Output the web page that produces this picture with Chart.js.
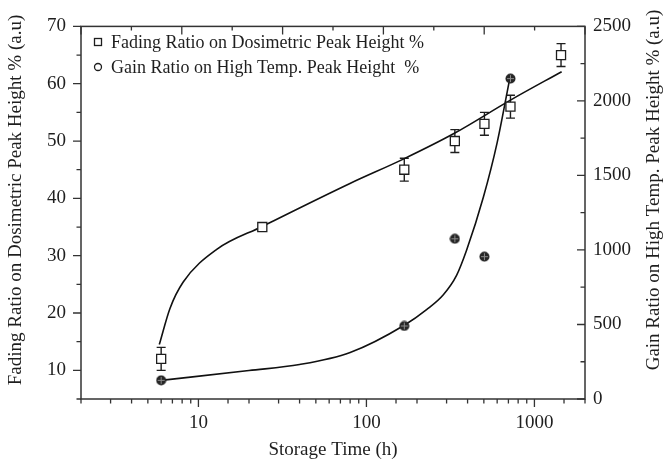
<!DOCTYPE html>
<html><head><meta charset="utf-8">
<script src="https://cdn.jsdelivr.net/npm/chart.js@4/dist/chart.umd.min.js"></script>
<style>html,body{margin:0;padding:0;background:#fff}#wrap{width:664px;height:461px;position:relative}</style>
</head><body><div id="wrap"><canvas id="c" width="664" height="461"></canvas></div>
<script>
// ---- data ----
const fadingHours = [6, 24, 168, 336, 504, 720, 1440];
const fadingRatio = [12, 35, 45, 50, 53, 56, 65];
const fadingError = [2, 0.7, 2, 2, 2, 2, 2];
const gainHours = [6, 168, 336, 504, 720];
const gainRatio = [125, 490, 1075, 955, 2150];
// fitted curves
const fadingFitHours = [5.85, 6.77, 8.12, 12.85, 24, 79.8, 165.7, 336, 716, 1452];
const fadingFitValues = [14.5, 20.8, 25.4, 31.1, 35.1, 42.6, 46.85, 51.4, 57.1, 62.1];
const gainFitHours = [6, 20, 40, 80, 168, 228, 287, 344, 395, 497, 600, 716];
const gainFitValues = [125, 191, 231, 312, 495, 600, 700, 830, 1000, 1355, 1720, 2160];
const xTickLabels = [10, 100, 1000];
const leftTickLabels = [10, 20, 30, 40, 50, 60, 70];
const rightTickLabels = [0, 500, 1000, 1500, 2000, 2500];
const seriesNames = ['Fading Ratio on Dosimetric Peak Height %', 'Gain Ratio on High Temp. Peak Height  %'];
const xTitle = 'Storage Time (h)';
const yTitle = 'Fading Ratio on Dosimetric Peak Height % (a.u)';
const y2Title = 'Gain Ratio on High Temp. Peak Height % (a.u)';

const FONT = "'Liberation Serif', 'DejaVu Serif', serif";
const INK = '#1e1e1e';
Chart.defaults.font.family = FONT;
Chart.defaults.color = INK;

const gi = document.createElement('canvas'); gi.width = 11; gi.height = 11;
(function(){const g = gi.getContext('2d'); g.fillStyle = '#262626'; g.beginPath(); g.arc(5.5,5.5,5,0,2*Math.PI); g.fill();
 g.strokeStyle = '#8a8a8a'; g.lineWidth = 1; g.beginPath(); g.moveTo(5.5,2); g.lineTo(5.5,9); g.moveTo(2,5.5); g.lineTo(9,5.5); g.stroke();})();

const near = (v, arr) => arr.some(t => Math.abs(v - t) <= Math.max(1e-6, Math.abs(t) * 1e-6));

const decor = {
  id: 'decor',
  beforeDatasetsDraw(chart) {
    const ctx = chart.ctx, xs = chart.scales.x, ys = chart.scales.y;
    ctx.save(); ctx.strokeStyle = INK; ctx.lineWidth = 1.4;
    fadingHours.forEach((h, i) => {
      const px = xs.getPixelForValue(h);
      const t = ys.getPixelForValue(fadingRatio[i] + fadingError[i]);
      const b = ys.getPixelForValue(fadingRatio[i] - fadingError[i]);
      ctx.beginPath(); ctx.moveTo(px, t); ctx.lineTo(px, b);
      ctx.moveTo(px - 4.5, t); ctx.lineTo(px + 4.5, t);
      ctx.moveTo(px - 4.5, b); ctx.lineTo(px + 4.5, b); ctx.stroke();
    });
    ctx.restore();
  },
  afterDraw(chart) {
    const ctx = chart.ctx, a = chart.chartArea;
    const xs = chart.scales.x, ys = chart.scales.y, y2 = chart.scales.y2;
    ctx.save();
    ctx.strokeStyle = '#333'; ctx.lineWidth = 1.5;
    ctx.strokeRect(a.left, a.top, a.right - a.left, a.bottom - a.top);
    ctx.lineWidth = 1.3; ctx.beginPath();
    xs.ticks.forEach(t => {
      const px = xs.getPixelForValue(t.value);
      const lg = Math.log10(t.value); const major = Math.abs(lg - Math.round(lg)) < 1e-6;
      ctx.moveTo(px, a.bottom); ctx.lineTo(px, a.bottom + (major ? 8 : 4.5));
    });
    ys.ticks.forEach(t => {
      const py = ys.getPixelForValue(t.value); const major = Math.round(t.value) % 10 === 0;
      ctx.moveTo(a.left, py); ctx.lineTo(a.left - (major ? 8 : 4.5), py);
    });
    y2.ticks.forEach(t => {
      const py = y2.getPixelForValue(t.value); const major = Math.round(t.value) % 500 === 0;
      ctx.moveTo(a.right, py); ctx.lineTo(a.right - (major ? 8 : 4.5), py);
    });
    for (let i = 0; i <= 10; i++) {
      const px = a.left + i * (a.right - a.left) / 10;
      ctx.moveTo(px, a.top); ctx.lineTo(px, a.top + (i % 2 === 0 ? 8 : 4));
    }
    ctx.stroke();
    // axis titles
    ctx.fillStyle = INK; ctx.font = '19px ' + FONT; ctx.textAlign = 'center'; ctx.textBaseline = 'middle';
    ctx.fillText(xTitle, (a.left + a.right) / 2, 450);
    ctx.save(); ctx.translate(16, 200); ctx.rotate(-Math.PI / 2); ctx.fillText(yTitle, 0, 0); ctx.restore();
    ctx.save(); ctx.translate(654, 190); ctx.rotate(-Math.PI / 2); ctx.fillText(y2Title, 0, 0); ctx.restore();
    // legend
    ctx.font = '18px ' + FONT; ctx.textAlign = 'left';
    ctx.strokeStyle = INK; ctx.lineWidth = 1.3;
    const lx = a.left + 17, ly1 = 42, ly2 = 67;
    ctx.strokeRect(lx - 3.5, ly1 - 3.5, 7, 7);
    ctx.beginPath(); ctx.arc(lx, ly2, 3.5, 0, 2 * Math.PI); ctx.stroke();
    ctx.fillText(seriesNames[0], a.left + 30, ly1 + 1);
    ctx.fillText(seriesNames[1], a.left + 30, ly2 + 1);
    ctx.restore();
  }
};

new Chart(document.getElementById('c'), {
  type: 'scatter',
  data: {
    datasets: [
      { label: seriesNames[0], data: fadingHours.map((h, i) => ({ x: h, y: fadingRatio[i] })), yAxisID: 'y',
        showLine: false, pointStyle: 'rect', pointRadius: 6.4, pointBackgroundColor: '#fff', pointBorderColor: INK, pointBorderWidth: 1.3, order: 1 },
      { label: seriesNames[1], data: gainHours.map((h, i) => ({ x: h, y: gainRatio[i] })), yAxisID: 'y2',
        showLine: false, pointStyle: gi, pointRadius: 5.5, order: 1 },
      { label: 'fit1', data: fadingFitHours.map((h, i) => ({ x: h, y: fadingFitValues[i] })), yAxisID: 'y',
        showLine: true, pointRadius: 0, borderColor: '#111', borderWidth: 1.6, cubicInterpolationMode: 'monotone', fill: false, order: 2 },
      { label: 'fit2', data: gainFitHours.map((h, i) => ({ x: h, y: gainFitValues[i] })), yAxisID: 'y2',
        showLine: true, pointRadius: 0, borderColor: '#111', borderWidth: 1.6, cubicInterpolationMode: 'monotone', fill: false, order: 2 }
    ]
  },
  options: {
    responsive: false, animation: false, devicePixelRatio: 1,
    layout: { padding: { top: 20, left: 0, right: 0, bottom: 0 } },
    plugins: { legend: { display: false }, tooltip: { enabled: false } },
    scales: {
      x: { type: 'logarithmic', position: 'bottom', min: 2, max: 2000,
        grid: { display: false, drawTicks: false }, border: { display: false },
        ticks: { autoSkip: false, maxRotation: 0, padding: 13, font: { size: 19 }, color: INK,
          callback: v => near(v, xTickLabels) ? String(Math.round(v)) : '' },
        afterFit: s => { s.height = 62; } },
      y: { type: 'linear', position: 'left', min: 5, max: 70,
        grid: { display: false, drawTicks: false }, border: { display: false },
        ticks: { stepSize: 5, autoSkip: false, padding: 15, font: { size: 19 }, color: INK,
          callback: v => near(v, leftTickLabels) ? String(v) : '' },
        afterFit: s => { s.width = 81; } },
      y2: { type: 'linear', position: 'right', min: 0, max: 2500,
        grid: { display: false, drawTicks: false }, border: { display: false },
        ticks: { stepSize: 250, autoSkip: false, padding: 8, font: { size: 19 }, color: INK,
          callback: v => near(v, rightTickLabels) ? String(v) : '' },
        afterFit: s => { s.width = 79; } }
    }
  },
  plugins: [decor]
});
</script></body></html>
